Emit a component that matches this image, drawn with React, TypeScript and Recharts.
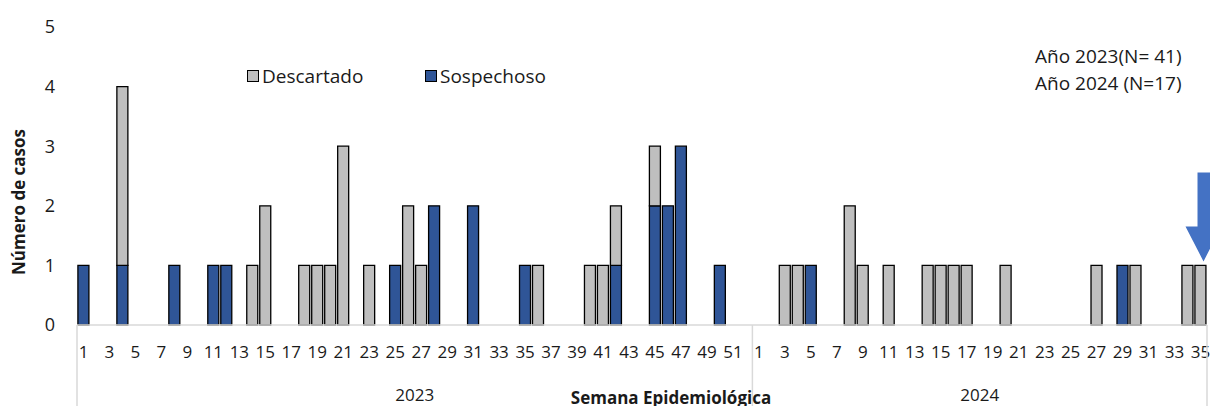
import React from 'react';
import { BarChart, Bar, XAxis, YAxis, Legend, ReferenceDot, Label } from 'recharts';

const FONT = "'Open Sans', 'Noto Sans', sans-serif";

// categories
const years = ['2023', '2024'];

// weekly cases per year (index 0 = week 1)
const sospechoso2023 = [
  1, 0, 0, 1, 0, 0, 0, 1, 0, 0,
  1, 1, 0, 0, 0, 0, 0, 0, 0, 0,
  0, 0, 0, 0, 1, 0, 0, 2, 0, 0,
  2, 0, 0, 0, 1, 0, 0, 0, 0, 0,
  0, 1, 0, 0, 2, 2, 3, 0, 0, 1,
  0, 0,
];
const descartado2023 = [
  0, 0, 0, 3, 0, 0, 0, 0, 0, 0,
  0, 0, 0, 1, 2, 0, 0, 1, 1, 1,
  3, 0, 1, 0, 0, 2, 1, 0, 0, 0,
  0, 0, 0, 0, 0, 1, 0, 0, 0, 1,
  1, 1, 0, 0, 1, 0, 0, 0, 0, 0,
  0, 0,
];
const sospechoso2024 = [
  0, 0, 0, 0, 1, 0, 0, 0, 0, 0,
  0, 0, 0, 0, 0, 0, 0, 0, 0, 0,
  0, 0, 0, 0, 0, 0, 0, 0, 1, 0,
  0, 0, 0, 0, 0,
];
const descartado2024 = [
  0, 0, 1, 1, 0, 0, 0, 2, 1, 0,
  1, 0, 0, 1, 1, 1, 1, 0, 0, 1,
  0, 0, 0, 0, 0, 0, 1, 0, 0, 1,
  0, 0, 0, 1, 1,
];

const yTicks = [0, 1, 2, 3, 4, 5];
const yearNotes = ['Año 2023(N= 41)', 'Año 2024 (N=17)'];
const arrowWeek = '2024-35';

const sospByYear = [sospechoso2023, sospechoso2024];
const descByYear = [descartado2023, descartado2024];

const chartData = years.flatMap((yr, yi) =>
  sospByYear[yi].map((s, i) => ({
    key: `${yr}-${i + 1}`,
    sospechoso: s,
    descartado: descByYear[yi][i],
  }))
).map((d, i) => ({ ...d, pos: i + 0.5 }));

const total = chartData.length;
const boundaries: number[] = [0];
const centers: { at: number; label: string }[] = [];
sospByYear.forEach((arr, yi) => {
  const start = boundaries[boundaries.length - 1];
  centers.push({ at: start + arr.length / 2, label: years[yi] });
  boundaries.push(start + arr.length);
});
const groupTicks = [...boundaries, ...centers.map((c) => c.at)].sort((a, b) => a - b);

const WK_H = 30;
const GRP_H = 51;
const WK = 'a_week';
const GRP = 'b_year';

const WeekTick = ({ x, y, payload }: any) => {
  const week = Number(String(payload.value).split('-')[1]);
  if (week % 2 === 0) return <g />;
  return (
    <text x={x} y={y} dy={33} textAnchor="middle" fontSize={17} fill="#1a1a1a" fontFamily={FONT}>
      {week}
    </text>
  );
};

const GroupTick = ({ x, y, payload }: any) => {
  const v = payload.value;
  if (boundaries.includes(v)) {
    return <line x1={x} x2={x} y1={y - WK_H} y2={y + GRP_H} stroke="#d9d9d9" strokeWidth={1.5} />;
  }
  const c = centers.find((cc) => cc.at === v);
  return (
    <text x={x} y={y} dy={46} textAnchor="middle" fontSize={17} fill="#1a1a1a" fontFamily={FONT}>
      {c ? c.label : ''}
    </text>
  );
};

const Arrow = ({ cx, cy }: any) => {
  const ax = cx + 3;
  return (
    <polygon
      points={`${ax - 6},${cy - 93} ${ax + 7},${cy - 93} ${ax + 7},${cy - 39} ${ax + 18},${cy - 39} ${ax},${cy - 4} ${ax - 18},${cy - 39} ${ax - 6},${cy - 39}`}
      fill="#4472C4"
    />
  );
};

const LegendBox = () => (
  <div style={{ position: 'relative', height: 26, fontFamily: FONT, fontSize: 19, color: '#1a1a1a' }}>
    {[
      { name: 'Descartado', color: '#BFBFBF', left: 0 },
      { name: 'Sospechoso', color: '#2F5597', left: 178 },
    ].map((it) => (
      <div key={it.name} style={{ position: 'absolute', left: it.left, top: 0, display: 'flex', alignItems: 'center', whiteSpace: 'nowrap' }}>
        <span style={{ display: 'inline-block', width: 10, height: 10, background: it.color, border: '1px solid #000', marginRight: 3 }} />
        <span>{it.name}</span>
      </div>
    ))}
  </div>
);

export default function App() {
  return (
    <div style={{ position: 'absolute', left: 0, top: 0, width: 1210, height: 406, background: '#fff', overflow: 'hidden' }}>
      <BarChart
        width={1210}
        height={406}
        data={chartData}
        margin={{ top: 27, right: 3, left: 0, bottom: 0 }}
        barCategoryGap="7%"
      >
        <YAxis
          width={77}
          domain={[0, 5]}
          ticks={yTicks}
          interval={0}
          axisLine={false}
          tickLine={false}
          tickSize={0}
          tickMargin={22}
          tick={{ fontSize: 18, fill: '#1a1a1a', fontFamily: FONT }}
        >
          <Label
            value="Número de casos"
            angle={-90}
            position="center"
            dx={-20}
            dy={26}
            style={{ fontSize: 17, fontWeight: 700, fill: '#1a1a1a', fontFamily: FONT }}
          />
        </YAxis>
        <XAxis
          xAxisId={WK}
          dataKey="key"
          height={WK_H}
          interval={0}
          axisLine={{ stroke: '#d9d9d9', strokeWidth: 1.5 }}
          tickLine={false}
          tickSize={0}
          tickMargin={0}
          tick={<WeekTick />}
        />
        <XAxis
          xAxisId={GRP}
          dataKey="pos"
          type="number"
          domain={[0, total]}
          ticks={groupTicks}
          interval={0}
          allowDataOverflow
          height={GRP_H}
          axisLine={false}
          tickLine={false}
          tickSize={0}
          tickMargin={0}
          tick={<GroupTick />}
        >
          <Label
            value="Semana Epidemiológica"
            position="insideBottom"
            offset={2}
            dx={29}
            style={{ fontSize: 17, fontWeight: 700, fill: '#1a1a1a', fontFamily: FONT }}
          />
        </XAxis>
        <Legend
          layout="horizontal"
          verticalAlign="middle"
          align="center"
          wrapperStyle={{ position: 'absolute', top: 63, left: 247, width: 360, height: 26 }}
          content={<LegendBox />}
        />
        <Bar xAxisId={WK} dataKey="sospechoso" name="Sospechoso" stackId="a" fill="#2F5597" stroke="#000" strokeWidth={1.3} isAnimationActive={false} />
        <Bar xAxisId={WK} dataKey="descartado" name="Descartado" stackId="a" fill="#BFBFBF" stroke="#000" strokeWidth={1.3} isAnimationActive={false} />
        <ReferenceDot xAxisId={WK} x={arrowWeek} y={1} r={0} shape={<Arrow />} />
      </BarChart>
      <div style={{ position: 'absolute', left: 1035, top: 43, fontFamily: FONT, fontSize: 19, lineHeight: '27px', color: '#1a1a1a', whiteSpace: 'nowrap' }}>
        {yearNotes.map((t) => (
          <div key={t}>{t}</div>
        ))}
      </div>
    </div>
  );
}
